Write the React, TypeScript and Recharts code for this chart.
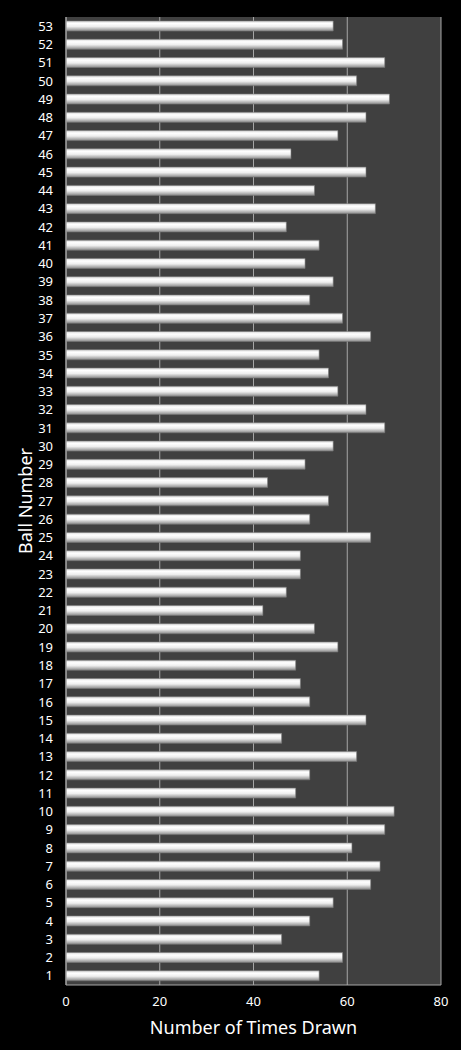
import React from 'react'
import { BarChart, Bar, XAxis, YAxis, CartesianGrid } from 'recharts'

// ball numbers 1..53 and how often each was drawn
const balls = Array.from({ length: 53 }, (_, i) => String(i + 1))
const timesDrawn = [
  54, 59, 46, 52, 57, 65, 67, 61, 68, 70,
  49, 52, 62, 46, 64, 52, 50, 49, 58, 53,
  42, 47, 50, 50, 65, 52, 56, 43, 51, 57,
  68, 64, 58, 56, 54, 65, 59, 52, 57, 51,
  54, 47, 66, 53, 64, 48, 58, 64, 69, 62,
  68, 59, 57,
]
const xTicks = [0, 20, 40, 60, 80]

const chartData = balls.map((ball, i) => ({ ball, count: timesDrawn[i] }))

const font = '"Noto Sans", "DejaVu Sans", sans-serif'

export default function App() {
  return (
    <div style={{ position: 'absolute', left: 0, top: 0, width: 461, height: 1050, background: '#000' }}>
      <BarChart
        width={461}
        height={1050}
        data={chartData}
        layout="vertical"
        margin={{ top: 17, right: 20, bottom: 0, left: 0 }}
      >
        <defs>
          <linearGradient id="barFill" x1="0" y1="0" x2="0" y2="1">
            <stop offset="0%" stopColor="#d8d8d8" />
            <stop offset="25%" stopColor="#ffffff" />
            <stop offset="55%" stopColor="#eeeeee" />
            <stop offset="100%" stopColor="#8a8a8a" />
          </linearGradient>
        </defs>
        <CartesianGrid horizontal={false} fill="#404040" fillOpacity={1} stroke="#a6a6a6" strokeWidth={1} />
        <XAxis
          type="number"
          domain={[0, 80]}
          ticks={xTicks}
          interval={0}
          height={65}
          tickSize={0}
          tickMargin={12}
          stroke="#a6a6a6"
          tick={{ fill: '#fff', fontSize: 13, fontFamily: font }}
          label={{
            value: 'Number of Times Drawn',
            position: 'insideBottom',
            offset: 16,
            fill: '#fff',
            fontSize: 18,
            fontFamily: font,
          }}
        />
        <YAxis
          type="category"
          dataKey="ball"
          reversed
          interval={0}
          width={66}
          tickSize={0}
          tickMargin={13}
          stroke="#a6a6a6"
          tick={{ fill: '#fff', fontSize: 13, fontFamily: font }}
          label={{
            value: 'Ball Number',
            angle: -90,
            position: 'insideLeft',
            offset: 26,
            fill: '#fff',
            fontSize: 18,
            fontFamily: font,
            style: { textAnchor: 'middle' },
          }}
        />
        <Bar
          dataKey="count"
          barSize={10}
          fill="url(#barFill)"
          stroke="#7a7a7a"
          strokeWidth={0.6}
          isAnimationActive={false}
        />
      </BarChart>
    </div>
  )
}
